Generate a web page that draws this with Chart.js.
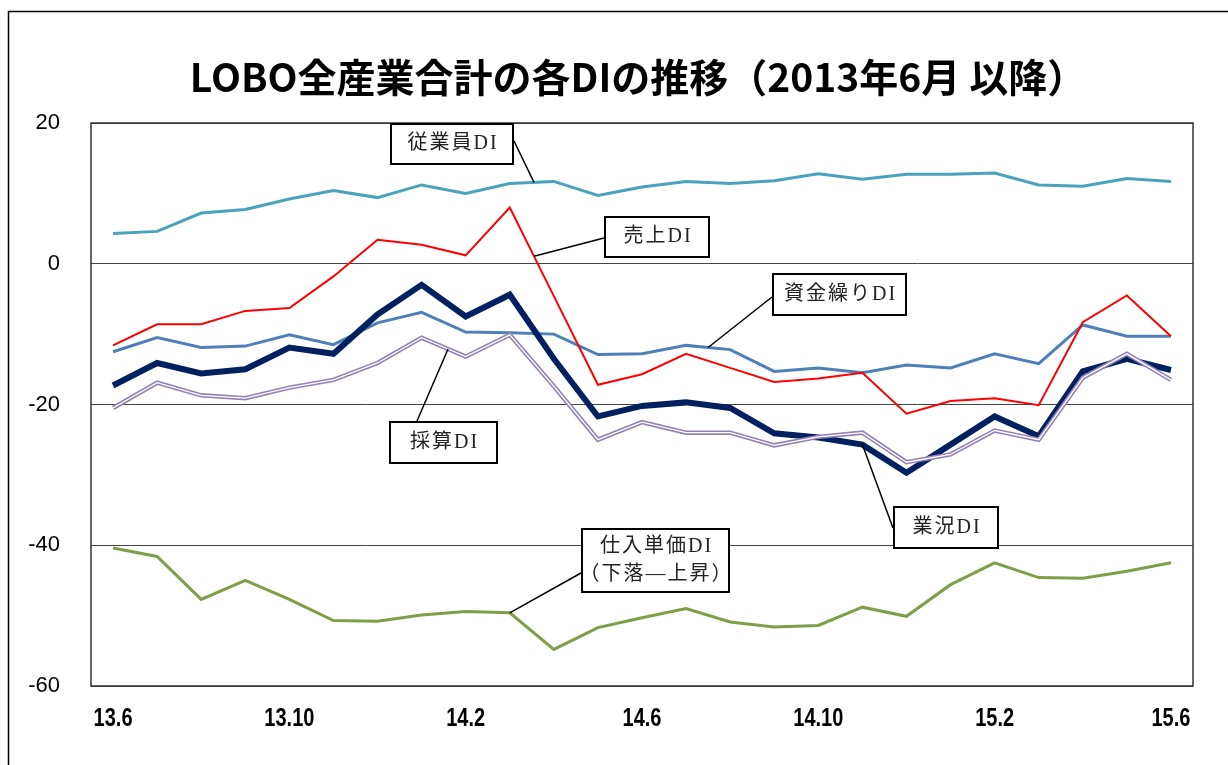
<!DOCTYPE html>
<html lang="ja">
<head>
<meta charset="UTF-8">
<title>LOBO全産業合計の各DIの推移</title>
<script src="https://cdn.jsdelivr.net/npm/chart.js"></script>
<style>
  body { margin: 0; background: #fff; }
</style>
</head>
<body>
<canvas id="diChart" width="1228" height="765"></canvas>
<script>
// 月（13.6 〜 15.6）
var months = ['13.6', '13.7', '13.8', '13.9', '13.10', '13.11', '13.12',
              '14.1', '14.2', '14.3', '14.4', '14.5', '14.6', '14.7', '14.8', '14.9', '14.10', '14.11', '14.12',
              '15.1', '15.2', '15.3', '15.4', '15.5', '15.6'];
var yTicks = [20, 0, -20, -40, -60];

// 各DI
var juugyouin = [4.3, 4.6, 7.2, 7.7, 9.2, 10.4, 9.4, 11.2, 10.0, 11.4, 11.7, 9.7, 10.9, 11.7, 11.4, 11.8, 12.8, 12.0, 12.7, 12.7, 12.9, 11.2, 11.0, 12.1, 11.7];
var uriage = [-11.6, -8.6, -8.6, -6.7, -6.3, -1.8, 3.4, 2.7, 1.2, 8.0, -4.6, -17.2, -15.7, -12.8, -14.8, -16.8, -16.3, -15.5, -21.3, -19.5, -19.1, -20.1, -8.3, -4.5, -10.3];
var shikinguri = [-12.5, -10.5, -11.9, -11.7, -10.1, -11.5, -8.4, -6.9, -9.7, -9.8, -10.0, -12.9, -12.8, -11.6, -12.2, -15.3, -14.8, -15.5, -14.4, -14.8, -12.8, -14.2, -8.7, -10.3, -10.3];
var gyoukyou = [-17.3, -14.1, -15.6, -15.0, -11.9, -12.8, -7.2, -3.0, -7.5, -4.4, -13.5, -21.7, -20.2, -19.7, -20.5, -24.1, -24.7, -25.7, -29.7, -25.7, -21.7, -24.5, -15.3, -13.5, -15.1];
var saisan = [-20.5, -16.9, -18.7, -19.1, -17.6, -16.5, -14.1, -10.5, -13.2, -10.1, -17.4, -25.0, -22.5, -24.0, -24.0, -25.8, -24.6, -24.0, -28.2, -27.1, -23.7, -25.0, -16.2, -12.8, -16.5];
var shiire = [-40.4, -41.6, -47.7, -45.0, -47.7, -50.7, -50.8, -49.9, -49.4, -49.6, -54.8, -51.7, -50.3, -49.0, -50.9, -51.6, -51.4, -48.8, -50.1, -45.6, -42.5, -44.6, -44.7, -43.7, -42.5];

// 吹き出し（box: left, top, width, height / from: 引き出し線の始点 / at: 系列上の位置）
var callouts = [
  { lines: ['従業員DI'], box: [391, 124, 122, 40], from: [514, 141], series: juugyouin, at: 9.55 },
  { lines: ['売上DI'], box: [605, 217, 104, 40], from: [604, 238], series: uriage, at: 9.55 },
  { lines: ['資金繰りDI'], box: [773, 274, 133, 41], from: [772, 297], series: shikinguri, at: 13.5 },
  { lines: ['採算DI'], box: [390, 422, 107, 41], from: [417, 421], series: saisan, at: 7.6 },
  { lines: ['業況DI'], box: [894, 507, 104, 41], from: [893, 528], series: gyoukyou, at: 17 },
  { lines: ['仕入単価DI', '（下落―上昇）'], box: [582, 529, 147, 63], from: [581, 573], series: shiire, at: 9 }
];

function valueAt(arr, pos) {
  var i = Math.floor(pos), f = pos - i;
  if (i >= arr.length - 1) return arr[arr.length - 1];
  return arr[i] + (arr[i + 1] - arr[i]) * f;
}

// 枠・タイトル・X軸ラベル（横長体を詰めて描く）
var framePlugin = {
  id: 'frame',
  beforeDraw: function (chart) {
    var ctx = chart.ctx;
    ctx.save();
    ctx.fillStyle = '#fff';
    ctx.fillRect(0, 0, chart.width, chart.height);
    ctx.strokeStyle = '#000';
    ctx.lineWidth = 1.5;
    ctx.beginPath();
    ctx.moveTo(8.5, chart.height);
    ctx.lineTo(8.5, 11.5);
    ctx.lineTo(chart.width, 11.5);
    ctx.stroke();
    ctx.restore();
  },
  beforeDatasetsDraw: function (chart) {
    var a = chart.chartArea, ctx = chart.ctx;
    ctx.save();
    ctx.strokeStyle = '#333';
    ctx.lineWidth = 1.5;
    ctx.strokeRect(a.left, a.top, a.right - a.left, a.bottom - a.top);
    ctx.restore();
  },
  afterDraw: function (chart) {
    var ctx = chart.ctx, xs = chart.scales.x;
    ctx.save();
    ctx.fillStyle = '#000';
    ctx.font = 'bold 39px "Noto Sans CJK JP", sans-serif';
    ctx.textAlign = 'center';
    ctx.textBaseline = 'middle';
    ctx.fillText('LOBO全産業合計の各DIの推移（2013年6月 以降）', 638, 77);

    ctx.font = 'bold 25px "Liberation Sans", sans-serif';
    ctx.textBaseline = 'alphabetic';
    months.forEach(function (m, i) {
      if (i % 4 !== 0) return;
      var x = xs.getPixelForValue(i);
      ctx.save();
      ctx.translate(x, 726);
      ctx.scale(0.8, 1);
      ctx.fillText(m, 0, 0);
      ctx.restore();
    });
    ctx.restore();
  }
};

var calloutPlugin = {
  id: 'callouts',
  afterDatasetsDraw: function (chart) {
    var ctx = chart.ctx, xs = chart.scales.x, ys = chart.scales.y;
    ctx.save();
    callouts.forEach(function (c) {
      var px = xs.getPixelForValue(c.at);
      var py = ys.getPixelForValue(valueAt(c.series, c.at));
      ctx.strokeStyle = '#000';
      ctx.lineWidth = 1.5;
      ctx.beginPath();
      ctx.moveTo(c.from[0], c.from[1]);
      ctx.lineTo(px, py);
      ctx.stroke();

      var b = c.box;
      ctx.fillStyle = '#fff';
      ctx.fillRect(b[0], b[1], b[2], b[3]);
      ctx.lineWidth = 2;
      ctx.strokeRect(b[0], b[1], b[2], b[3]);

      ctx.fillStyle = '#222';
      ctx.font = '20px "Liberation Serif", "Noto Sans CJK JP", serif';
      ctx.textAlign = 'center';
      ctx.textBaseline = 'middle';
      ctx.letterSpacing = '2px';
      var lh = 28;
      var y0 = b[1] + b[3] / 2 - (c.lines.length - 1) * lh / 2;
      c.lines.forEach(function (t, k) {
        ctx.fillText(t, b[0] + b[2] / 2 + 1, y0 + k * lh);
      });
    });
    ctx.restore();
  }
};

function line(data, color, width) {
  return {
    data: data,
    borderColor: color,
    borderWidth: width,
    pointRadius: 0,
    tension: 0,
    fill: false
  };
}

// 先頭の系列ほど手前に描かれる
var ctx = document.getElementById('diChart').getContext('2d');
var diChart = new Chart(ctx, {
  type: 'line',
  data: {
    labels: months,
    datasets: [
      line(uriage, '#ff0000', 2),
      line(saisan, '#ffffff', 1.3),
      line(saisan, '#9481b6', 4.5),
      line(gyoukyou, '#002060', 6),
      line(shikinguri, '#4f7fb8', 3),
      line(juugyouin, '#4aa3bc', 3),
      line(shiire, '#7e9f48', 3)
    ]
  },
  options: {
    responsive: false,
    devicePixelRatio: 1,
    animation: false,
    layout: { padding: { top: 123, right: 35, left: 0, bottom: 0 } },
    plugins: {
      legend: { display: false },
      tooltip: { enabled: false },
      title: { display: false }
    },
    scales: {
      x: {
        offset: true,
        grid: { display: false },
        border: { display: false },
        afterFit: function (s) { s.height = 79; },
        ticks: { display: false }
      },
      y: {
        min: yTicks[yTicks.length - 1],
        max: yTicks[0],
        afterFit: function (s) { s.width = 91; },
        afterBuildTicks: function (s) { s.ticks = yTicks.map(function (v) { return { value: v }; }); },
        border: { display: false },
        grid: { color: '#444', lineWidth: 1, drawTicks: false },
        ticks: {
          padding: 31,
          color: '#000',
          font: { family: '"Liberation Sans", sans-serif', size: 22 }
        }
      }
    }
  },
  plugins: [framePlugin, calloutPlugin]
});
</script>
</body>
</html>
